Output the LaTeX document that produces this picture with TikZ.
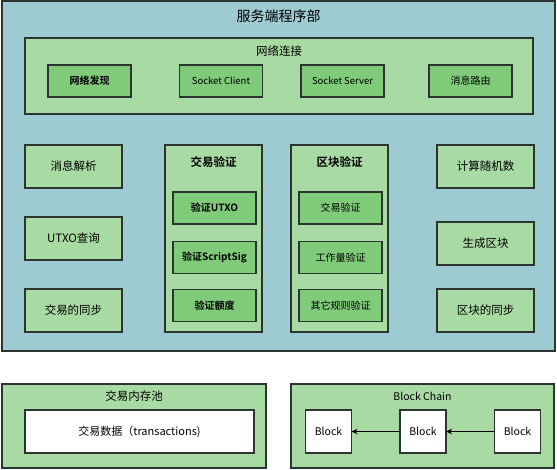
\documentclass[tikz,border=0pt]{standalone}
\usepackage{fontspec}
\setmainfont{Noto Sans CJK SC}[BoldFont={Noto Sans CJK SC Bold}]
\usetikzlibrary{arrows.meta}
\definecolor{bgblue}{HTML}{9DCBD1}
\definecolor{lgreen}{HTML}{A8DBA3}
\definecolor{dgreen}{HTML}{7FCB79}
\definecolor{edgec}{HTML}{2B3431}
\tikzset{
  frame/.style={draw=edgec, line width=1.2pt, inner sep=0pt, outer sep=0pt},
  outerbox/.style={frame, fill=bgblue},
  lbox/.style={frame, fill=lgreen, font=\fontsize{11.5}{13}\selectfont},
  dbox/.style={frame, fill=dgreen, minimum width=83pt, minimum height=32pt, font=\fontsize{10}{11}\selectfont},
  sbox/.style={lbox, minimum width=97pt, minimum height=43pt},
  wbox/.style={frame, fill=white, font=\fontsize{11}{13}\selectfont},
  ttl/.style={inner sep=0pt, font=\fontsize{11.5}{13}\selectfont},
  link/.style={draw=black, line width=1.2pt, -{Stealth[length=6pt,width=5.5pt]}}
}
\begin{document}
\begin{tikzpicture}[x=1pt,y=-1pt]
\useasboundingbox (0,0) rectangle (557,469);
% server part
\node[outerbox, minimum width=553pt, minimum height=350pt] (server) at (278.5,176) {};
\node[inner sep=0pt, font=\fontsize{14}{15}\selectfont] (servert) at (278.5,16) {服务端程序部};
% network
\node[lbox, minimum width=508pt, minimum height=76pt] (net) at (279,76) {};
\node[ttl] (nett) at (279,51) {网络连接};
\node[dbox] (n1) at (89.5,81) {\bfseries 网络发现};
\node[dbox, font=\fontsize{9.5}{11}\selectfont] (n2) at (221,81) {Socket Client};
\node[dbox, font=\fontsize{9.5}{11}\selectfont] (n3) at (342.5,81) {Socket Server};
\node[dbox] (n4) at (470.5,81) {消息路由};
% left column
\node[sbox] (l1) at (73.5,166.5) {消息解析};
\node[sbox] (l2) at (73.5,238.5) {UTXO查询};
\node[sbox] (l3) at (73.5,310.5) {交易的同步};
% tx verify
\node[lbox, minimum width=97pt, minimum height=187pt] (tv) at (213.5,238.5) {};
\node[ttl] (tvt) at (213.5,162) {\bfseries 交易验证};
\node[dbox] (tv1) at (214.5,208) {\bfseries 验证UTXO};
\node[dbox] (tv2) at (214.5,257.5) {\bfseries 验证ScriptSig};
\node[dbox] (tv3) at (214.5,305.5) {\bfseries 验证额度};
% block verify
\node[lbox, minimum width=97pt, minimum height=187pt] (bv) at (339.5,238.5) {};
\node[ttl] (bvt) at (339.5,162) {\bfseries 区块验证};
\node[dbox] (bv1) at (340.5,208) {交易验证};
\node[dbox] (bv2) at (340.5,257.5) {工作量验证};
\node[dbox] (bv3) at (340.5,305.5) {其它规则验证};
% right column
\node[sbox] (r1) at (485.5,166.5) {计算随机数};
\node[sbox] (r2) at (485.5,243.5) {生成区块};
\node[sbox] (r3) at (485.5,310.5) {区块的同步};
% mem pool
\node[lbox, minimum width=264pt, minimum height=84pt] (pool) at (134,426) {};
\node[ttl] (poolt) at (134,396) {交易内存池};
\node[wbox, minimum width=229pt, minimum height=43pt] (txd) at (139.5,431.5) {交易数据（transactions)};
% block chain
\node[lbox, minimum width=263pt, minimum height=84pt] (chain) at (422.5,426) {};
\node[ttl, font=\fontsize{10.5}{12}\selectfont] (chaint) at (422.5,396) {Block Chain};
\node[wbox, minimum width=46pt, minimum height=43pt, font=\fontsize{10.5}{12}\selectfont] (b1) at (328.5,431.5) {Block};
\node[wbox, minimum width=46pt, minimum height=43pt, font=\fontsize{10.5}{12}\selectfont] (b2) at (423,431.5) {Block};
\node[wbox, minimum width=46pt, minimum height=43pt, font=\fontsize{10.5}{12}\selectfont] (b3) at (517.5,431.5) {Block};
\draw[link] (b2) -- (b1);
\draw[link] (b3) -- (b2);
\end{tikzpicture}
\end{document}
